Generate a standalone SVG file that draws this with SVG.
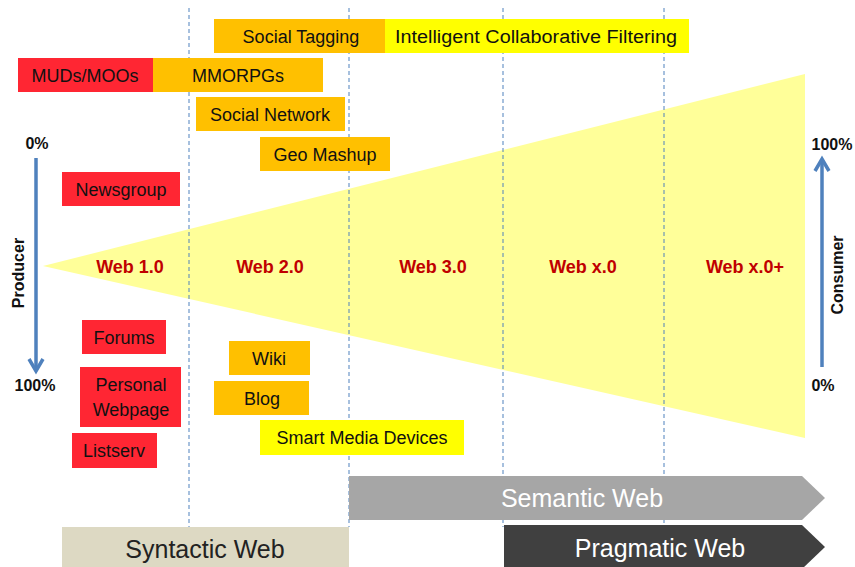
<svg xmlns="http://www.w3.org/2000/svg" width="855" height="567" viewBox="0 0 855 567">
<style>
.t{font-family:"Liberation Sans",Arial,sans-serif;font-size:18px;fill:#111;text-anchor:middle}
.w{font-family:"Liberation Sans",Arial,sans-serif;font-size:18px;font-weight:bold;fill:#C00000;text-anchor:middle}
.p{font-family:"Liberation Sans",Arial,sans-serif;font-size:16px;font-weight:bold;fill:#111;text-anchor:middle}
.b{font-family:"Liberation Sans",Arial,sans-serif;font-size:25px;text-anchor:middle}
.red{fill:#FF2633}
.org{fill:#FFC000}
.yel{fill:#FFFF00}
.dash{stroke:#4F81BD;stroke-width:1;stroke-dasharray:4 3;fill:none}
.ax{stroke:#4F81BD;stroke-width:3.5;fill:none}
</style>
<rect width="855" height="567" fill="#fff"/>
<g id="cone"><polygon points="43,266 805,74 805,438" fill="#FFFF99"/></g>
<g id="grid">
<line class="dash" x1="189" y1="8" x2="189" y2="527"/>
<line class="dash" x1="349" y1="8" x2="349" y2="527"/>
<line class="dash" x1="503" y1="8" x2="503" y2="527"/>
<line class="dash" x1="664" y1="8" x2="664" y2="527"/>
</g>
<g id="web-labels">
<text class="w" x="130" y="273">Web 1.0</text>
<text class="w" x="270" y="273">Web 2.0</text>
<text class="w" x="433" y="273">Web 3.0</text>
<text class="w" x="583" y="273">Web x.0</text>
<text class="w" x="745" y="273">Web x.0+</text>
</g>
<g id="social-tagging"><rect class="org" x="214" y="19" width="171" height="34"/><text class="t" x="301" y="43">Social Tagging</text></g>
<g id="icf"><rect class="yel" x="385" y="19" width="304" height="34"/><text class="t" x="536" y="43" textLength="282" lengthAdjust="spacingAndGlyphs">Intelligent Collaborative Filtering</text></g>
<g id="muds"><rect class="red" x="18" y="58" width="135" height="34"/><text class="t" x="85" y="82">MUDs/MOOs</text></g>
<g id="mmorpgs"><rect class="org" x="153" y="58" width="170" height="34"/><text class="t" x="238" y="82">MMORPGs</text></g>
<g id="social-network"><rect class="org" x="196" y="97" width="149" height="34"/><text class="t" x="270" y="121">Social Network</text></g>
<g id="geo-mashup"><rect class="org" x="260" y="137" width="130" height="34"/><text class="t" x="325" y="161">Geo Mashup</text></g>
<g id="newsgroup"><rect class="red" x="62" y="172" width="118" height="34"/><text class="t" x="121" y="196">Newsgroup</text></g>
<g id="forums"><rect class="red" x="82" y="320" width="84" height="34"/><text class="t" x="124" y="344">Forums</text></g>
<g id="personal-webpage"><rect class="red" x="80" y="367" width="101" height="60"/><text class="t" x="131" y="391">Personal</text><text class="t" x="131" y="416">Webpage</text></g>
<g id="listserv"><rect class="red" x="72" y="433" width="85" height="35"/><text class="t" x="114" y="457">Listserv</text></g>
<g id="wiki"><rect class="org" x="229" y="341" width="81" height="34"/><text class="t" x="269" y="365">Wiki</text></g>
<g id="blog"><rect class="org" x="214" y="381" width="95" height="34"/><text class="t" x="262" y="405">Blog</text></g>
<g id="smart-media"><rect class="yel" x="260" y="420" width="204" height="35"/><text class="t" x="362" y="444">Smart Media Devices</text></g>
<g id="producer-axis">
<line class="ax" x1="36" y1="158" x2="36" y2="371"/>
<polyline class="ax" points="29,359 36,371 43,359"/>
<text class="p" x="37" y="149">0%</text>
<text class="p" x="35" y="391">100%</text>
<text class="p" transform="translate(24,273) rotate(-90)">Producer</text>
</g>
<g id="consumer-axis">
<line class="ax" x1="822" y1="367" x2="822" y2="159"/>
<polyline class="ax" points="815,171 822,159 829,171"/>
<text class="p" x="832" y="150">100%</text>
<text class="p" x="823" y="391">0%</text>
<text class="p" transform="translate(843,275) rotate(-90)">Consumer</text>
</g>
<g id="syntactic-web"><rect x="62" y="527" width="287" height="40" fill="#DDD9C3"/><text class="b" x="205" y="558" fill="#222">Syntactic Web</text></g>
<g id="semantic-web"><polygon points="349,476 802,476 825,498 802,520 349,520" fill="#A6A6A6"/><text class="b" x="582" y="507" fill="#fff">Semantic Web</text></g>
<g id="pragmatic-web"><polygon points="504,525 802,525 825,547 802,569 504,569" fill="#404040"/><text class="b" x="660" y="557" fill="#fff">Pragmatic Web</text></g>
</svg>
